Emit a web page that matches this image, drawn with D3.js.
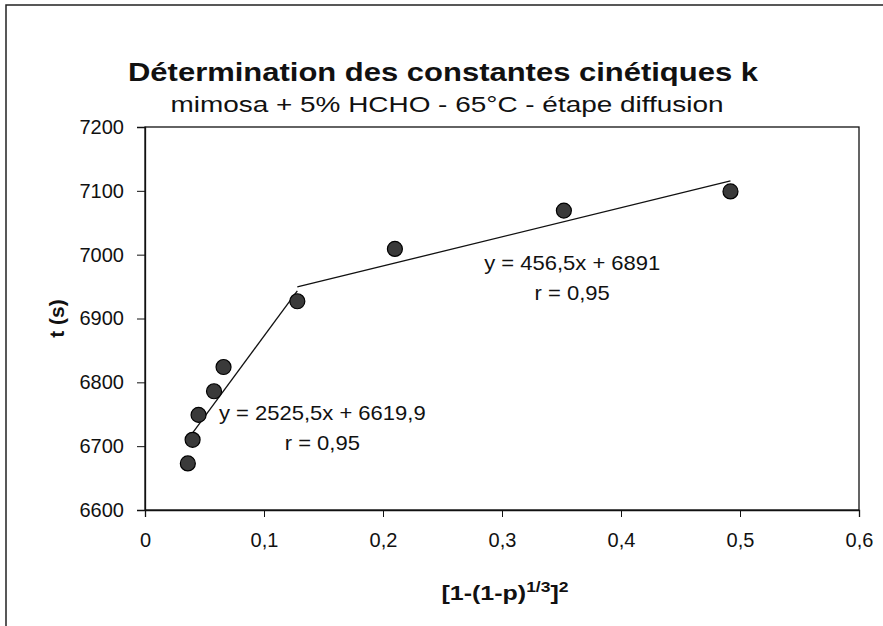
<!DOCTYPE html>
<html><head><meta charset="utf-8">
<script src="https://cdn.jsdelivr.net/npm/d3@7"></script>
<style>
body{margin:0;background:#fff;}
svg{display:block;}
text{font-family:"Liberation Sans",Arial,sans-serif;fill:#111;}
</style></head>
<body>
<svg id="chart" width="883" height="626"></svg>
<script>
// Data
const xValues = [0.036, 0.040, 0.045, 0.058, 0.066, 0.128, 0.210, 0.352, 0.492];
const tValues = [6673, 6710, 6749, 6786, 6824, 6927, 7009, 7069, 7099];
// trend lines (printed equations) and their x-extent
const slopes = [2525.5, 456.5];
const intercepts = [6619.9, 6891];
const trendStart = [0.036, 0.128];
const trendEnd = [0.128, 0.492];
const eqLabels = ["y = 2525,5x + 6619,9", "y = 456,5x + 6891"];
const rLabels = ["r = 0,95", "r = 0,95"];
const eqPosX = [0.149, 0.359];
const eqPosY = [6741, 6976];
const xTicks = [0, 0.1, 0.2, 0.3, 0.4, 0.5, 0.6];
const yTicks = [6600, 6700, 6800, 6900, 7000, 7100, 7200];
const title = "Détermination des constantes cinétiques k";
const subtitle = "mimosa + 5% HCHO - 65°C - étape diffusion";

const svg = d3.select("#chart");
const L = 145, R = 859, T = 127, B = 510;
const x = d3.scaleLinear().domain([0, 0.6]).range([L, R]);
const y = d3.scaleLinear().domain([6600, 7200]).range([B, T]);
const fmt = d => d3.format(".1f")(d).replace(/\.0$/, "").replace(".", ",");

// outer chart frame (partly cropped)
svg.append("rect").attr("x", 6).attr("y", 5).attr("width", 900).attr("height", 700)
  .attr("fill", "none").attr("stroke", "#222").attr("stroke-width", 1.5);

// titles (scan is slightly stretched horizontally)
svg.append("text").attr("x", 443).attr("y", 81).attr("text-anchor", "middle")
  .attr("font-size", 26).attr("font-weight", "bold")
  .attr("textLength", 630).attr("lengthAdjust", "spacingAndGlyphs").text(title);
svg.append("text").attr("x", 447).attr("y", 112).attr("text-anchor", "middle")
  .attr("font-size", 22)
  .attr("textLength", 553).attr("lengthAdjust", "spacingAndGlyphs").text(subtitle);

// plot box
svg.append("rect").attr("x", L).attr("y", T).attr("width", R - L).attr("height", B - T)
  .attr("fill", "none").attr("stroke", "#111").attr("stroke-width", 1.3);

// axes
const xAxis = svg.append("g").attr("transform", `translate(0,${B})`)
  .call(d3.axisBottom(x).tickValues(xTicks).tickSize(7).tickPadding(16).tickFormat(d => d === 0 ? "0" : fmt(d)));
const yAxis = svg.append("g").attr("transform", `translate(${L},0)`)
  .call(d3.axisLeft(y).tickValues(yTicks).tickSize(8).tickPadding(13).tickFormat(d3.format("d")));
[xAxis, yAxis].forEach(g => {
  g.select(".domain").attr("stroke", "#111").attr("stroke-width", 1.3);
  g.selectAll(".tick line").attr("stroke", "#111");
  g.selectAll(".tick text").attr("font-size", 20).attr("fill", "#111")
    .attr("font-family", "'Liberation Sans',Arial,sans-serif");
});

// axis titles
const xt = svg.append("text").attr("transform", `translate(505,600) scale(1.25,1)`)
  .attr("text-anchor", "middle").attr("font-size", 20).attr("font-weight", "bold");
xt.append("tspan").text("[1-(1-p)");
xt.append("tspan").attr("dy", -8).attr("font-size", 14).text("1/3");
xt.append("tspan").attr("dy", 8).text("]");
xt.append("tspan").attr("dy", -8).attr("font-size", 14).text("2");
svg.append("text").attr("transform", `translate(64,${(T + B) / 2}) rotate(-90)`)
  .attr("text-anchor", "middle").attr("font-size", 21).attr("font-weight", "bold").text("t (s)");

// trend lines
slopes.forEach((m, i) => {
  svg.append("line")
    .attr("x1", x(trendStart[i])).attr("y1", y(m * trendStart[i] + intercepts[i]))
    .attr("x2", x(trendEnd[i])).attr("y2", y(m * trendEnd[i] + intercepts[i]))
    .attr("stroke", "#111").attr("stroke-width", 1.3);
});

// points
svg.append("g").selectAll("circle").data(xValues).join("circle")
  .attr("cx", (d) => x(d)).attr("cy", (d, i) => y(tValues[i])).attr("r", 7.5)
  .attr("fill", "#3a3a3a").attr("stroke", "#000").attr("stroke-width", 1.2);

// equation labels
eqLabels.forEach((s, i) => {
  svg.append("text").attr("transform", `translate(${x(eqPosX[i])},${y(eqPosY[i])}) scale(1.1,1)`)
    .attr("text-anchor", "middle").attr("font-size", 20).text(s);
  svg.append("text").attr("transform", `translate(${x(eqPosX[i])},${y(eqPosY[i]) + 30}) scale(1.1,1)`)
    .attr("text-anchor", "middle").attr("font-size", 20).text(rLabels[i]);
});
</script>
</body></html>
